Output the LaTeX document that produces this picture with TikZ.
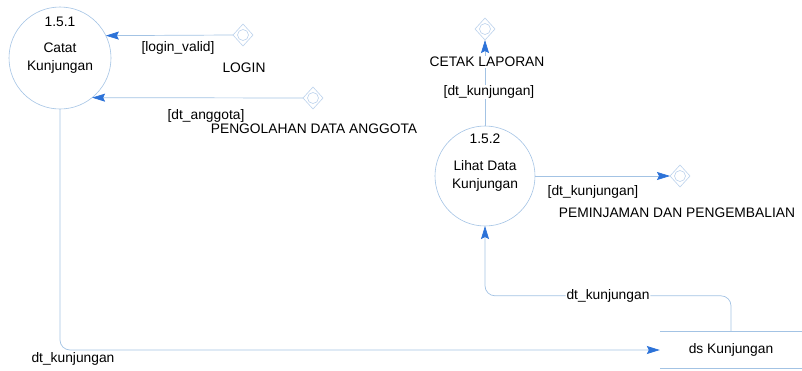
\documentclass[tikz,border=0pt]{standalone}
\usepackage{fontspec}
\setmainfont{Liberation Sans}
\usetikzlibrary{arrows.meta,shapes.geometric}
\definecolor{lineblue}{HTML}{A3C3E4}
\definecolor{tipblue}{HTML}{2C72D8}
\definecolor{ifblue}{HTML}{BCD2EC}
\begin{document}
\begin{tikzpicture}[x=1pt,y=1pt,
  every node/.style={font=\fontsize{13.8}{17.5}\selectfont},
  proc/.style={circle, draw=lineblue, line width=0.6pt, inner sep=0pt, outer sep=0pt, align=center},
  iface/.style={diamond, aspect=0.9, draw=ifblue, line width=0.6pt, minimum width=20pt, minimum height=22pt,
    inner sep=0pt, outer sep=0pt,
    path picture={\draw[ifblue, line width=0.6pt] (path picture bounding box.center) circle (5.5pt);}},
  flow/.style={draw=lineblue, line width=0.7pt, -{Stealth[length=13pt,width=8pt,inset=2pt,color=tipblue]}},
  lbl/.style={inner sep=1pt},
  onlbl/.style={inner sep=1pt, fill=white},
]
\useasboundingbox (0,0) rectangle (802,-370);

% processes
\node[proc, minimum size=102pt] (c1) at (60,-58) {Catat\\Kunjungan};
\node[lbl] (c1id) at (60,-22) {1.5.1};
\node[proc, minimum size=100pt] (c2) at (485,-176) {Lihat Data\\Kunjungan};
\node[lbl] (c2id) at (485,-139) {1.5.2};

% interfaces
\node[iface] (login) at (243,-35) {};
\node[iface] (anggota) at (313,-98) {};
\node[iface] (cetak) at (485,-29) {};
\node[iface] (pem) at (680,-176) {};

% data store
\node[minimum width=142pt, minimum height=36pt, inner sep=0pt] (ds) at (731,-350) {ds Kunjungan};
\draw[lineblue, line width=0.7pt] (ds.north west) -- (ds.north east);
\draw[lineblue, line width=0.7pt] (ds.south west) -- (ds.south east);

% flows
\draw[flow] (login.west) -- (c1.26.8);
\draw[flow] (anggota.west) -- (c1.-51.7);
\draw[flow] (c2.north) -- (cetak.south);
\draw[flow] (c2.east) -- (pem.west);
\draw[flow, rounded corners=10pt] (ds.north) -- ++(0,36) -| node[pos=0.25, onlbl] (l5) {dt\_kunjungan} (c2.south);
\draw[flow, rounded corners=10pt] (c1.south) |- (ds.west);

% labels
\node[lbl] (l1) at (178,-48) {[login\_valid]};
\node[lbl] (l1b) at (244,-68) {LOGIN};
\node[lbl] (l2) at (206,-116) {[dt\_anggota]};
\node[lbl] (l2b) at (314,-129) {PENGOLAHAN DATA ANGGOTA};
\node[onlbl] (l3b) at (487,-62) {CETAK LAPORAN};
\node[onlbl] (l3) at (489,-92) {[dt\_kunjungan]};
\node[lbl] (l4) at (593,-192) {[dt\_kunjungan]};
\node[lbl] (l4b) at (677,-213) {PEMINJAMAN DAN PENGEMBALIAN};
\node[lbl] (l6) at (73,-359) {dt\_kunjungan};
\end{tikzpicture}
\end{document}
